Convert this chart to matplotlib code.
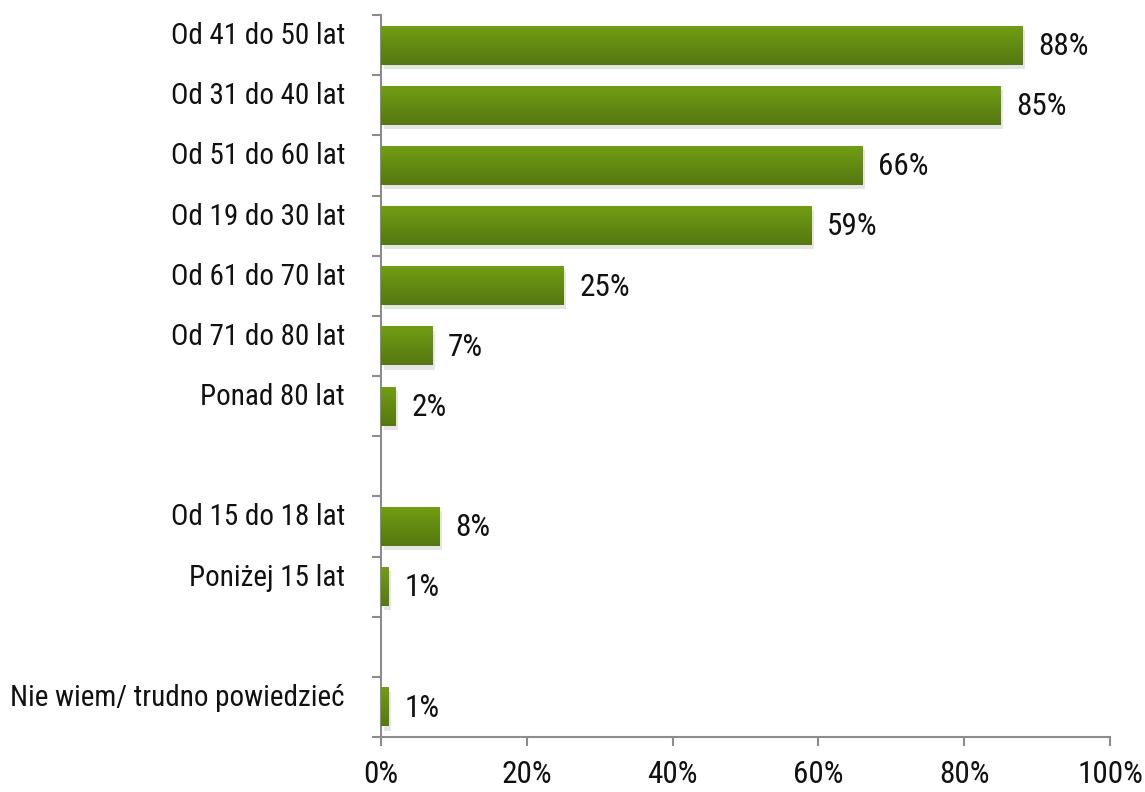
import matplotlib
matplotlib.use("Agg")
import matplotlib.pyplot as plt
import matplotlib.patheffects as pe
import numpy as np
from matplotlib import font_manager

# Data (groups separated by an empty row in the chart)
adult_labels = ["Od 41 do 50 lat", "Od 31 do 40 lat", "Od 51 do 60 lat",
                "Od 19 do 30 lat", "Od 61 do 70 lat", "Od 71 do 80 lat",
                "Ponad 80 lat"]
adult_values = [88, 85, 66, 59, 25, 7, 2]
young_labels = ["Od 15 do 18 lat", "Poniżej 15 lat"]
young_values = [8, 1]
other_labels = ["Nie wiem/ trudno powiedzieć"]
other_values = [1]
x_ticks = [0, 20, 40, 60, 80, 100]

# the original uses a narrow Arial; use a narrow face when one is installed
names = {f.name for f in font_manager.fontManager.ttflist}
family, fsize, nsize = "Liberation Sans", 19, 19
for cand in ["Liberation Sans Narrow", "Arial Narrow", "Roboto Condensed",
             "Open Sans Condensed", "DejaVu Sans Condensed"]:
    if cand in names:
        family, fsize, nsize = cand, 21, 22.5
        break
plt.rcParams["font.family"] = [family, "DejaVu Sans"]

# rows: one blank row between the groups
labels = adult_labels + [""] + young_labels + [""] + other_labels
values = adult_values + [np.nan] + young_values + [np.nan] + other_values
ypos = np.arange(len(labels))

fig = plt.figure(figsize=(11.45, 7.92), dpi=100)
ax = fig.add_axes([381 / 1145, (792 - 737) / 792, (1110 - 381) / 1145, (737 - 15) / 792])

grey = "#8c8c8c"
bars = ax.barh(ypos, np.nan_to_num(values), height=0.65, color="#65900f",
               zorder=2)
grad = np.linspace(0, 1, 64).reshape(-1, 1)
cmap = matplotlib.colors.LinearSegmentedColormap.from_list("g", ["#729e14", "#557810"])
for b, v in zip(bars, values):
    if np.isnan(v):
        b.set_visible(False)
        continue
    b.set_path_effects([pe.SimplePatchShadow(offset=(2, -3), shadow_rgbFace="#aaaaaa", alpha=0.3),
                        pe.Normal()])
    y0, y1 = b.get_y(), b.get_y() + b.get_height()
    im = ax.imshow(grad, cmap=cmap, aspect="auto", extent=[0, v, y1, y0],
                   zorder=3, interpolation="bilinear")
    im.set_clip_path(b)
    ax.annotate(f"{v:.0f}%", (v, b.get_y() + b.get_height() / 2),
                xytext=(11.5, -1), textcoords="offset points",
                ha="left", va="center", fontsize=nsize, color="#111111")

ax.set_xlim(0, 100)
ax.set_ylim(len(labels) - 0.5, -0.5)

# category labels sit a little above the bar centre
for y, lab in zip(ypos, labels):
    if lab:
        ax.annotate(lab, (0, y), xytext=(-26, 6.5), textcoords="offset points",
                    ha="right", va="center", fontsize=fsize, color="#111111",
                    annotation_clip=False)

ax.set_yticks(np.arange(len(labels) + 1) - 0.5)
ax.set_yticklabels([])
ax.set_xticks(x_ticks)
ax.set_xticklabels([f"{t}%" for t in x_ticks], fontsize=nsize, color="#111111")
ax.tick_params(axis="y", direction="out", length=6.5, width=1.5, color=grey)
ax.tick_params(axis="x", direction="out", length=6.5, width=1.5, color=grey, pad=10)

for s in ["top", "right"]:
    ax.spines[s].set_visible(False)
for s in ["left", "bottom"]:
    ax.spines[s].set_color(grey)
    ax.spines[s].set_linewidth(1.5)

fig.savefig("out.png", dpi=100)
